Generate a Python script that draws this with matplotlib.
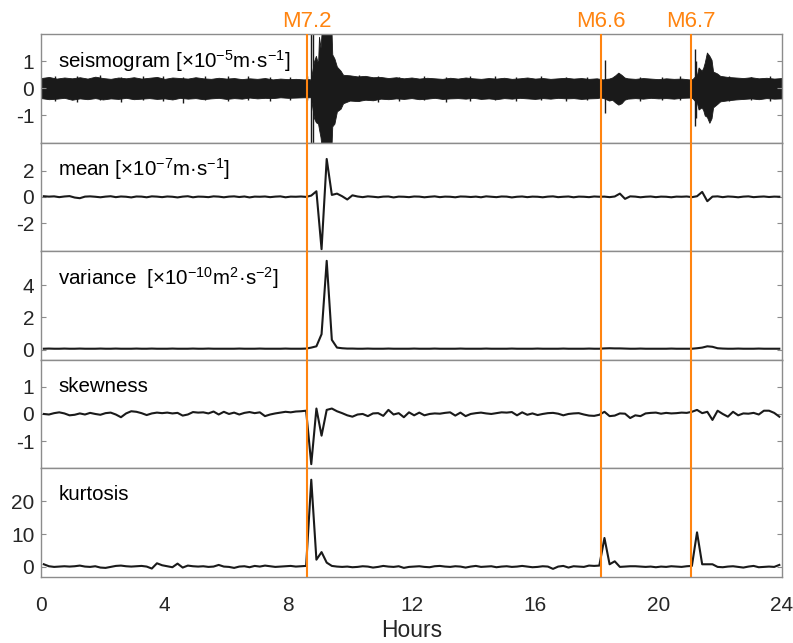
import numpy as np
import matplotlib
matplotlib.use("Agg")
import matplotlib.pyplot as plt
from matplotlib.transforms import blended_transform_factory

plt.rcParams['font.family'] = ['Liberation Sans', 'DejaVu Sans']
plt.rcParams['mathtext.fontset'] = 'custom'
plt.rcParams['mathtext.rm'] = 'Liberation Sans'
plt.rcParams['mathtext.it'] = 'Liberation Sans'
plt.rcParams['axes.unicode_minus'] = False

# events (hours) and labels
event_hours = [8.62, 18.13, 21.05]
event_labels = ['M7.2', 'M6.6', 'M6.7']

# seismogram envelope (x1e-5 m/s)
seis_t = [0.0, 0.25, 0.5, 0.75, 1.0, 1.25, 1.5, 1.75, 2.0, 2.25, 2.5, 2.75,
          3.0, 3.25, 3.5, 3.75, 4.0, 4.25, 4.5, 4.75, 5.0, 5.25, 5.5, 5.75,
          6.0, 6.25, 6.5, 6.75, 7.0, 7.25, 7.5, 7.75, 8.0, 8.25, 8.5, 8.7,
          8.73, 8.84, 8.9, 8.97, 9.0, 9.05, 9.1, 9.4, 9.43, 9.5, 9.58, 9.7,
          9.78, 10.0, 10.25, 10.5, 10.75, 11.0, 11.25, 11.5, 11.75, 12.0, 12.25, 12.5,
          12.75, 13.0, 13.25, 13.5, 13.75, 14.0, 14.25, 14.5, 14.75, 15.0, 15.25, 15.5,
          15.75, 16.0, 16.25, 16.5, 16.75, 17.0, 17.25, 17.5, 17.75, 18.0, 18.1, 18.2,
          18.3, 18.4, 18.5, 18.6, 18.7, 18.8, 18.9, 19.0, 19.25, 19.5, 19.75, 20.0,
          20.25, 20.5, 20.75, 21.0, 21.1, 21.25, 21.3, 21.4, 21.45, 21.5, 21.57, 21.65,
          21.72, 21.77, 21.9, 22.0, 22.25, 22.5, 22.75, 23.0, 23.25, 23.5, 23.75, 24.0]
seis_hi = [0.38, 0.42, 0.36, 0.40, 0.37, 0.41, 0.36, 0.43, 0.38, 0.35, 0.40, 0.37,
           0.41, 0.36, 0.39, 0.42, 0.35, 0.40, 0.38, 0.36, 0.41, 0.37, 0.35, 0.39,
           0.36, 0.38, 0.34, 0.37, 0.35, 0.38, 0.33, 0.36, 0.34, 0.35, 0.33, 0.34,
           0.30, 1.00, 1.20, 0.90, 1.90, 1.50, 2.30, 2.30, 1.25, 1.10, 0.80, 0.65,
           0.50, 0.48, 0.44, 0.46, 0.41, 0.42, 0.38, 0.41, 0.37, 0.40, 0.36, 0.39,
           0.37, 0.35, 0.39, 0.36, 0.40, 0.37, 0.35, 0.38, 0.36, 0.39, 0.35, 0.37,
           0.40, 0.36, 0.38, 0.35, 0.37, 0.39, 0.36, 0.38, 0.35, 0.37, 0.35, 0.33,
           0.35, 0.36, 0.40, 0.48, 0.58, 0.50, 0.40, 0.37, 0.35, 0.38, 0.36, 0.34,
           0.37, 0.35, 0.36, 0.33, 0.34, 0.52, 0.77, 0.65, 0.75, 0.95, 1.32, 1.20,
           1.05, 0.62, 0.55, 0.46, 0.42, 0.40, 0.38, 0.41, 0.37, 0.39, 0.36, 0.38]
seis_lo = [-0.36, -0.40, -0.38, -0.35, -0.42, -0.37, -0.40, -0.36, -0.41, -0.37, -0.39, -0.35,
           -0.40, -0.38, -0.36, -0.39, -0.37, -0.41, -0.35, -0.38, -0.36, -0.40, -0.37, -0.35,
           -0.39, -0.36, -0.38, -0.34, -0.37, -0.35, -0.36, -0.33, -0.35, -0.34, -0.33, -0.33,
           -0.30, -1.10, -1.25, -1.30, -1.50, -1.80, -2.30, -2.30, -1.40, -1.30, -0.85, -0.75,
           -0.55, -0.45, -0.47, -0.42, -0.44, -0.38, -0.40, -0.37, -0.39, -0.36, -0.40, -0.38,
           -0.35, -0.39, -0.37, -0.36, -0.38, -0.35, -0.39, -0.37, -0.40, -0.36, -0.38, -0.35,
           -0.37, -0.39, -0.36, -0.38, -0.35, -0.37, -0.36, -0.39, -0.37, -0.36, -0.34, -0.35,
           -0.40, -0.45, -0.42, -0.52, -0.60, -0.55, -0.42, -0.38, -0.36, -0.38, -0.35, -0.37,
           -0.36, -0.38, -0.35, -0.34, -0.36, -0.55, -0.78, -0.70, -0.80, -1.00, -1.05, -1.27,
           -1.10, -0.70, -0.58, -0.48, -0.44, -0.41, -0.39, -0.37, -0.40, -0.36, -0.38, -0.37]

# single spikes sticking out of the band
spike_t = [0.45, 1.15, 1.9, 2.6, 3.3, 3.95, 4.6, 5.3, 6.05, 6.7, 7.4, 8.05, 8.6,
           8.75, 8.8, 10.3, 10.9, 11.6, 12.4, 13.1, 13.9, 14.7, 15.4, 16.2, 17.0,
           17.7, 18.28, 19.4, 20.1, 20.7, 21.2, 21.23, 22.3, 23.0, 23.6]
spike_hi = [0.46, 0.44, 0.48, 0.43, 0.45, 0.47, 0.42, 0.45, 0.44, 0.46, 0.42, 0.43, 0.46,
            2.30, 2.30, 0.50, 0.46, 0.43, 0.47, 0.42, 0.45, 0.46, 0.42, 0.44, 0.43,
            0.42, 1.05, 0.43, 0.42, 0.44, 1.45, 1.00, 0.46, 0.43, 0.45]
spike_lo = [-0.45, -0.49, -0.43, -0.52, -0.44, -0.47, -0.53, -0.44, -0.48, -0.43, -0.45, -0.42, -0.43,
            -2.30, -2.30, -0.48, -0.51, -0.45, -0.43, -0.50, -0.46, -0.43, -0.48, -0.44, -0.46,
            -0.42, -0.90, -0.45, -0.43, -0.42, -1.40, -1.10, -0.47, -0.44, -0.46]

# 10-minute window statistics (144 windows)
mean_vals = [0.05, 0.02, 0.04, -0.02, 0.03, 0.06, -0.05, -0.10, 0.02, 0.04, 0.01, -0.03,
             0.02, 0.05, -0.02, 0.03, 0.01, -0.04, 0.03, 0.02, -0.03, 0.04, 0.02, -0.02,
             0.03, 0.01, -0.04, 0.02, 0.05, -0.03, 0.02, 0.01, -0.02, 0.04, 0.02, -0.03,
             0.02, 0.04, -0.01, 0.03, -0.04, 0.02, 0.01, 0.03, -0.02, 0.02, 0.04, -0.03,
             0.02, 0.01, 0.03, 0.00, 0.10, 0.43, -4.00, 2.90, 0.15, 0.25, 0.05, -0.20,
             0.12, 0.03, -0.02, 0.04, 0.01, -0.03, 0.02, 0.03, -0.04, 0.02, 0.01, -0.02,
             0.03, 0.02, -0.03, 0.01, 0.04, -0.02, 0.02, 0.01, -0.03, 0.03, 0.02, -0.01,
             0.02, -0.03, 0.04, 0.01, -0.02, 0.03, 0.02, -0.04, 0.01, 0.03, -0.02, 0.02,
             0.01, -0.03, 0.02, 0.04, -0.02, 0.01, 0.03, -0.03, 0.02, 0.01, -0.02, 0.03,
             0.01, 0.02, -0.02, 0.03, 0.25, -0.15, 0.04, 0.02, -0.03, 0.01, 0.03, -0.02,
             0.02, 0.01, -0.03, 0.02, 0.01, 0.03, -0.02, 0.05, 0.38, -0.33, 0.02, 0.04,
             -0.02, 0.03, 0.01, -0.03, 0.02, 0.04, -0.02, 0.01, 0.03, -0.01, 0.02, 0.01]

var_vals = [0.05, 0.06, 0.05, 0.05, 0.06, 0.05, 0.05, 0.06, 0.05, 0.05, 0.05, 0.06,
            0.05, 0.05, 0.06, 0.05, 0.05, 0.05, 0.06, 0.05, 0.05, 0.06, 0.05, 0.05,
            0.05, 0.06, 0.05, 0.05, 0.05, 0.06, 0.05, 0.05, 0.06, 0.05, 0.05, 0.05,
            0.05, 0.05, 0.06, 0.05, 0.05, 0.05, 0.06, 0.05, 0.05, 0.05, 0.05, 0.06,
            0.05, 0.05, 0.05, 0.06, 0.12, 0.20, 0.95, 5.50, 0.60, 0.12, 0.08, 0.06,
            0.06, 0.05, 0.05, 0.06, 0.05, 0.05, 0.05, 0.06, 0.05, 0.05, 0.05, 0.05,
            0.06, 0.05, 0.05, 0.05, 0.06, 0.05, 0.05, 0.05, 0.05, 0.06, 0.05, 0.05,
            0.05, 0.05, 0.06, 0.05, 0.05, 0.05, 0.05, 0.06, 0.05, 0.05, 0.05, 0.05,
            0.06, 0.05, 0.05, 0.05, 0.05, 0.06, 0.05, 0.05, 0.05, 0.05, 0.06, 0.05,
            0.05, 0.07, 0.08, 0.07, 0.07, 0.06, 0.05, 0.05, 0.06, 0.05, 0.05, 0.05,
            0.05, 0.05, 0.06, 0.05, 0.05, 0.05, 0.05, 0.08, 0.12, 0.20, 0.17, 0.08,
            0.06, 0.05, 0.05, 0.06, 0.05, 0.05, 0.05, 0.06, 0.05, 0.05, 0.05, 0.05]

skew_vals = [0.00, -0.02, 0.03, 0.06, 0.02, -0.05, -0.03, 0.02, -0.02, 0.04, 0.00, -0.03,
             0.03, 0.05, -0.02, -0.12, 0.02, 0.10, 0.08, 0.03, -0.04, 0.02, 0.05, 0.03,
             0.05, 0.02, 0.04, -0.06, -0.02, 0.07, 0.05, 0.06, 0.02, 0.09, -0.02, 0.08,
             0.00, 0.05, -0.02, 0.04, 0.07, 0.03, 0.06, -0.08, -0.02, 0.02, 0.05, 0.08,
             0.06, 0.09, 0.10, 0.12, -1.85, 0.20, -0.80, 0.15, 0.20, 0.10, 0.03, -0.05,
             -0.10, -0.02, 0.00, -0.08, 0.02, 0.03, -0.07, 0.15, -0.02, 0.03, -0.12, 0.06,
             -0.05, 0.05, -0.05, 0.00, 0.02, 0.01, 0.04, 0.06, -0.06, 0.05, -0.08, 0.00,
             0.03, 0.05, 0.02, 0.00, 0.03, 0.06, 0.05, 0.07, -0.05, 0.06, -0.03, 0.02,
             -0.04, 0.00, 0.03, 0.04, 0.01, -0.05, 0.00, 0.02, 0.03, -0.02, -0.06, -0.07,
             -0.03, 0.08, -0.08, -0.06, 0.02, 0.01, -0.15, -0.05, -0.08, 0.02, 0.04, 0.05,
             0.01, 0.04, 0.02, 0.03, 0.05, 0.04, 0.08, 0.15, 0.03, 0.08, -0.22, 0.12,
             0.00, -0.10, 0.08, -0.05, 0.02, 0.01, 0.04, -0.02, 0.12, 0.12, 0.04, -0.10]

kurt_vals = [0.8, 0.2, 0.0, 0.1, 0.2, 0.1, 0.2, 0.4, 0.1, 0.0, 0.2, -0.2,
             -0.3, 0.0, 0.3, 0.4, 0.2, 0.1, 0.2, 0.3, 0.1, -0.5, 1.1, 0.5,
             0.2, -0.1, 1.0, -0.2, 0.4, 0.2, 0.1, 0.2, 0.0, 0.1, 0.6, 0.1,
             0.0, -0.3, 0.1, 0.2, -0.1, 0.3, 0.1, 0.4, 0.2, 0.0, 0.1, 0.2,
             0.3, 0.1, 0.2, 0.3, 26.5, 2.2, 4.5, 1.3, 0.3, 0.1, 0.0, 0.1,
             -0.1, 0.0, 0.2, 0.1, -0.2, 0.0, 0.3, 0.1, 0.0, 0.2, -0.3, 0.0,
             0.1, 0.2, 0.0, -0.1, 0.2, 0.3, 0.1, 0.0, 0.2, 0.1, -0.2, 0.1,
             0.3, 0.0, 0.1, 0.2, -0.1, 0.1, 0.2, 0.0, 0.1, 0.3, 0.1, -0.1,
             0.0, 0.2, 0.1, -0.6, 0.1, 0.3, -0.2, 0.2, 0.1, 0.0, 0.4, 0.3,
             0.4, 8.8, 0.8, 1.7, 0.0, 0.1, 0.2, 0.2, 0.1, 0.0, 0.1, -0.1,
             0.1, 0.0, 0.2, 0.1, 0.0, 0.2, 0.3, 10.5, 0.8, 0.8, 0.8, 0.0,
             -0.1, 0.1, 0.2, 0.0, -0.2, 0.1, 0.3, -0.1, 0.0, 0.1, 0.0, 0.6]

panel_labels = ['seismogram [×10$^{-5}$m·s$^{-1}$]',
                'mean [×10$^{-7}$m·s$^{-1}$]',
                'variance  [×10$^{-10}$m$^{2}$·s$^{-2}$]',
                'skewness',
                'kurtosis']
panel_ylims = [(-2, 2), (-4.15, 4.15), (-0.63, 6.1), (-2, 2), (-3, 30)]
panel_yticks = [[-1, 0, 1], [-2, 0, 2], [0, 2, 4], [-1, 0, 1], [0, 10, 20]]
hour_ticks = [0, 4, 8, 12, 16, 20, 24]

line_col = '#1a1a1a'
orange = '#ff8410'
frame_col = '#8c8c8c'
text_col = '#262626'

win_hours = (np.arange(len(mean_vals)) + 0.5) / 6.0

fig, axes = plt.subplots(5, 1, sharex=True, figsize=(7.93, 6.43), dpi=100)
fig.subplots_adjust(left=0.052, right=0.986, top=0.947, bottom=0.103, hspace=0)

# seismogram
ax = axes[0]
ax.fill_between(seis_t, seis_lo, seis_hi, color=line_col, lw=0.6)
ax.vlines(spike_t, spike_lo, spike_hi, color=line_col, lw=1.0)

for ax, vals in zip(axes[1:], [mean_vals, var_vals, skew_vals, kurt_vals]):
    ax.plot(win_hours, vals, color=line_col, lw=1.5)

for i, ax in enumerate(axes):
    for h in event_hours:
        ax.axvline(h, color=orange, lw=1.5, zorder=3)
    ax.set_ylim(*panel_ylims[i])
    ax.set_yticks(panel_yticks[i])
    ax.set_xlim(0, 24)
    ax.text(0.023, 0.755, panel_labels[i], transform=ax.transAxes,
            fontsize=14.8, color='black', va='center', ha='left')
    for sp in ax.spines.values():
        sp.set_color(frame_col)
        sp.set_linewidth(1.0)
    ax.tick_params(axis='y', direction='in', length=3.5, left=True, right=True,
                   color=frame_col, labelsize=15, labelcolor=text_col, pad=5)
    ax.tick_params(axis='x', direction='in', length=0, labelsize=15,
                   labelcolor=text_col, pad=14)

axes[-1].set_xticks(hour_ticks)
axes[-1].set_xlabel('Hours', fontsize=16.5, color=text_col, labelpad=3)

trans = blended_transform_factory(axes[0].transData, axes[0].transAxes)
for h, lab in zip(event_hours, event_labels):
    axes[0].text(h, 1.02, lab, transform=trans, ha='center', va='bottom',
                 fontsize=16, color=orange)

fig.savefig('out.png', dpi=100)
